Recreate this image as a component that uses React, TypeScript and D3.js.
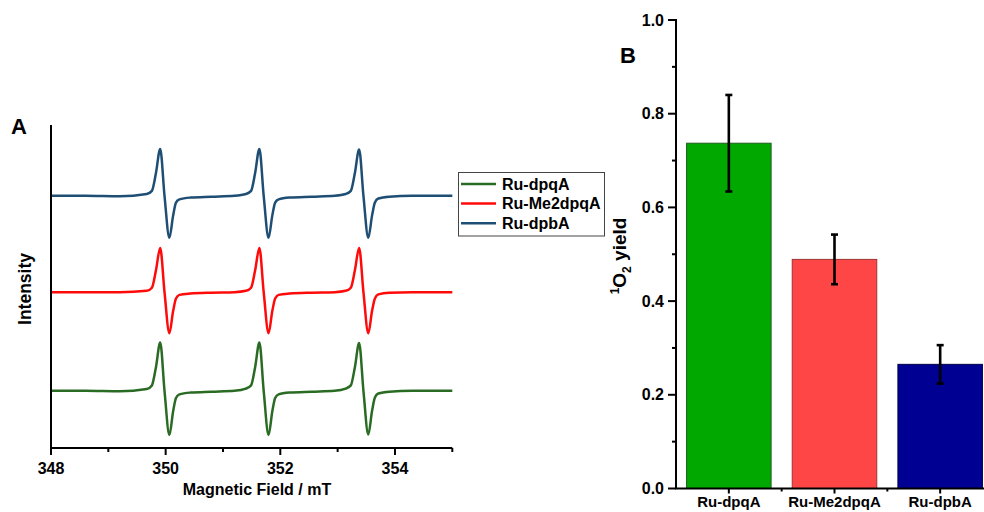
import React from "react";
import * as d3 from "d3";

// ---------- Panel A data (EPR spectra) ----------
const fieldTicks = [348, 350, 352, 354];
const fieldMinorTicks = [349, 351, 353, 355];
const seriesNames = ["Ru-dpqA", "Ru-Me2dpqA", "Ru-dpbA"];
const seriesColors = ["#2a6b24", "#ff0a0a", "#1f4e74"];
const traceOffsets = [1.27, 3.46, 5.6];

// [magnetic field (mT), intensity (a.u.)]
const greenTrace: [number, number][] = [
  [348.0, 0.0], [348.6, 0.0], [349.2, -0.01], [349.67, 0.04], [349.76, 0.12], [349.83, 0.52],
  [349.905, 1.07], [349.98, 0.0], [350.065, -0.98], [350.13, -0.46], [350.18, -0.16], [350.24, -0.08],
  [350.43, -0.04], [350.8, -0.02], [351.2, 0.0], [351.4, 0.05], [351.49, 0.12], [351.56, 0.52],
  [351.635, 1.07], [351.71, 0.0], [351.795, -0.98], [351.86, -0.46], [351.91, -0.16], [351.97, -0.08],
  [352.16, -0.04], [352.55, -0.02], [352.95, 0.0], [353.14, 0.05], [353.23, 0.12], [353.3, 0.52],
  [353.375, 1.06], [353.45, 0.0], [353.535, -0.97], [353.6, -0.45], [353.65, -0.15], [353.71, -0.06],
  [353.9, -0.02], [354.3, 0.0], [355.0, 0.0],
];
const redTrace: [number, number][] = [
  [348.0, 0.0], [348.6, 0.0], [349.2, 0.0], [349.67, 0.03], [349.76, 0.1], [349.83, 0.48],
  [349.905, 0.98], [349.98, 0.0], [350.065, -0.91], [350.13, -0.42], [350.18, -0.14], [350.24, -0.06],
  [350.43, -0.03], [350.8, -0.01], [351.2, 0.0], [351.4, 0.03], [351.49, 0.1], [351.56, 0.48],
  [351.635, 0.98], [351.71, 0.0], [351.795, -0.91], [351.86, -0.42], [351.91, -0.14], [351.97, -0.06],
  [352.16, -0.03], [352.55, -0.01], [352.95, 0.0], [353.14, 0.03], [353.23, 0.1], [353.3, 0.48],
  [353.375, 0.98], [353.45, 0.0], [353.535, -0.91], [353.6, -0.42], [353.65, -0.14], [353.71, -0.05],
  [353.9, -0.01], [354.3, 0.0], [355.0, 0.0],
];
const blueTrace: [number, number][] = [
  [348.0, 0.0], [348.6, 0.0], [349.2, -0.01], [349.67, 0.04], [349.76, 0.11], [349.83, 0.5],
  [349.905, 1.04], [349.98, 0.0], [350.065, -0.93], [350.13, -0.44], [350.18, -0.15], [350.24, -0.08],
  [350.43, -0.04], [350.8, -0.02], [351.2, 0.0], [351.4, 0.04], [351.49, 0.11], [351.56, 0.5],
  [351.635, 1.04], [351.71, 0.0], [351.795, -0.93], [351.86, -0.44], [351.91, -0.15], [351.97, -0.08],
  [352.16, -0.04], [352.55, -0.02], [352.95, 0.0], [353.14, 0.04], [353.23, 0.11], [353.3, 0.5],
  [353.375, 1.03], [353.45, 0.0], [353.535, -0.93], [353.6, -0.44], [353.65, -0.15], [353.71, -0.06],
  [353.9, -0.02], [354.3, 0.0], [355.0, 0.0],
];
const traces = [greenTrace, redTrace, blueTrace];

// ---------- Panel B data (1O2 yield) ----------
const barCategories = ["Ru-dpqA", "Ru-Me2dpqA", "Ru-dpbA"];
const barValues = [0.737, 0.489, 0.265];
const barErrors = [0.103, 0.053, 0.041];
const barFills = ["#00a800", "#ff4646", "#000092"];
const barStrokes = ["#1d5e1d", "#9c3232", "#00004a"];
const yieldTicks = [0, 0.2, 0.4, 0.6, 0.8, 1.0];
const yieldMinorTicks = [0.1, 0.3, 0.5, 0.7, 0.9];

const FONT = "'Liberation Sans', Arial, sans-serif";

export default function App() {
  // Panel A scales
  const xA = d3.scaleLinear().domain([348, 355]).range([51, 452.3]);
  const yA = d3.scaleLinear().domain([0, 7.15]).range([448, 126]);
  const axisAY = 448;

  // Panel B scales
  const xB = d3.scaleBand<string>().domain(barCategories).range([676, 993]).paddingInner(0.2).paddingOuter(0.1);
  const yB = d3.scaleLinear().domain([0, 1]).range([488.5, 20]);
  const axisBX = 676;

  const lineGen = (offset: number) =>
    d3
      .line<[number, number]>()
      .x((d) => xA(d[0]))
      .y((d) => yA(d[1] + offset))
      .curve(d3.curveMonotoneX);

  const bandBounds = barCategories.slice(1).map((c) => (xB(c) as number) - (xB.step() * xB.paddingInner()) / 2);

  return (
    <svg
      width={984}
      height={512}
      style={{ position: "absolute", left: 0, top: 0, background: "#fff" }}
      fontFamily={FONT}
      fontWeight="bold"
    >
      <rect x={0} y={0} width={984} height={512} fill="#fff" />

      {/* ---------------- Panel A ---------------- */}
      <text x={11} y={134} fontSize={22}>A</text>

      {traces.map((t, i) => (
        <path
          key={i}
          d={lineGen(traceOffsets[i])(t) || ""}
          fill="none"
          stroke={seriesColors[i]}
          strokeWidth={2.5}
          strokeLinejoin="round"
        />
      ))}

      {/* axes */}
      <line x1={xA(348)} x2={xA(348)} y1={125} y2={axisAY} stroke="#000" strokeWidth={2} />
      <line x1={xA(348) - 1} x2={xA(355)} y1={axisAY} y2={axisAY} stroke="#000" strokeWidth={2} />
      {fieldTicks.map((t) => (
        <g key={t}>
          <line x1={xA(t)} x2={xA(t)} y1={axisAY} y2={axisAY + 7} stroke="#000" strokeWidth={2} />
          <text x={xA(t)} y={473.5} fontSize={16} textAnchor="middle">{t}</text>
        </g>
      ))}
      {fieldMinorTicks.map((t) => (
        <line key={t} x1={xA(t)} x2={xA(t)} y1={axisAY} y2={axisAY + 4} stroke="#000" strokeWidth={2} />
      ))}
      <text x={257} y={495} fontSize={16} textAnchor="middle">Magnetic Field / mT</text>
      <text transform="translate(31,289) rotate(-90)" fontSize={17.5} textAnchor="middle">Intensity</text>

      {/* legend */}
      <rect x={458.5} y={172.5} width={146} height={63.5} fill="#fff" stroke="#444" strokeWidth={1} />
      {[0, 1, 2].map((i) => (
        <g key={i}>
          <line x1={461} x2={496} y1={184 + i * 19.6} y2={184 + i * 19.6} stroke={seriesColors[i]} strokeWidth={2.5} />
          <text x={502} y={189.5 + i * 19.5} fontSize={16}>{seriesNames[i]}</text>
        </g>
      ))}

      {/* ---------------- Panel B ---------------- */}
      <text x={620} y={63} fontSize={22}>B</text>

      {barCategories.map((c, i) => (
        <rect
          key={c}
          x={xB(c) as number}
          y={yB(barValues[i])}
          width={xB.bandwidth()}
          height={yB(0) - yB(barValues[i])}
          fill={barFills[i]}
          stroke={barStrokes[i]}
          strokeWidth={1}
        />
      ))}
      {barCategories.map((c, i) => {
        const cx = (xB(c) as number) + xB.bandwidth() / 2;
        const top = yB(barValues[i] + barErrors[i]);
        const bot = yB(barValues[i] - barErrors[i]);
        return (
          <g key={c} stroke="#000" strokeWidth={2.6}>
            <line x1={cx} x2={cx} y1={top} y2={bot} />
            <line x1={cx - 3.5} x2={cx + 3.5} y1={top} y2={top} />
            <line x1={cx - 3.5} x2={cx + 3.5} y1={bot} y2={bot} />
          </g>
        );
      })}

      {/* axes */}
      <line x1={axisBX} x2={axisBX} y1={19} y2={yB(0)} stroke="#000" strokeWidth={2} />
      <line x1={axisBX - 1} x2={993} y1={yB(0)} y2={yB(0)} stroke="#000" strokeWidth={2} />
      {yieldTicks.map((t) => (
        <g key={t}>
          <line x1={axisBX - 8} x2={axisBX} y1={yB(t)} y2={yB(t)} stroke="#000" strokeWidth={2} />
          <text x={664} y={yB(t) + 5.5} fontSize={16} textAnchor="end">{t.toFixed(1)}</text>
        </g>
      ))}
      {yieldMinorTicks.map((t) => (
        <line key={t} x1={axisBX - 4} x2={axisBX} y1={yB(t)} y2={yB(t)} stroke="#000" strokeWidth={2} />
      ))}
      {barCategories.map((c) => {
        const cx = (xB(c) as number) + xB.bandwidth() / 2;
        return (
          <g key={c}>
            <line x1={cx} x2={cx} y1={yB(0)} y2={yB(0) + 5} stroke="#000" strokeWidth={2} />
            <text x={cx} y={507} fontSize={15} textAnchor="middle">{c}</text>
          </g>
        );
      })}
      {bandBounds.map((b, i) => (
        <line key={i} x1={b} x2={b} y1={yB(0)} y2={yB(0) + 3} stroke="#000" strokeWidth={2} />
      ))}
      <text transform="translate(626,256) rotate(-90)" fontSize={19} textAnchor="middle">
        <tspan fontSize={12} dy={-7}>1</tspan>
        <tspan dy={7}>O</tspan>
        <tspan fontSize={12} dy={5}>2</tspan>
        <tspan dy={-5}> yield</tspan>
      </text>
    </svg>
  );
}
